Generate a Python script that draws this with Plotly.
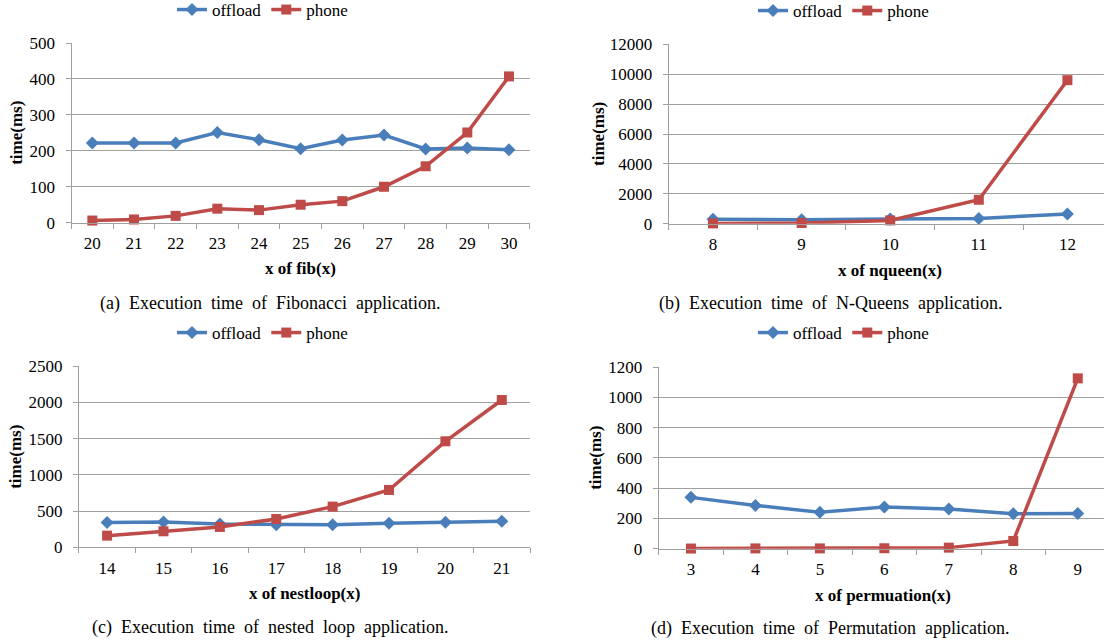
import plotly.graph_objects as go

# ---------------- data ----------------
fib_x = ["20", "21", "22", "23", "24", "25", "26", "27", "28", "29", "30"]
fib_offload = [222, 222, 222, 251, 231, 206, 230, 244, 205, 208, 203]
fib_phone = [6, 9, 19, 39, 35, 50, 60, 100, 157, 251, 407]

nq_x = ["8", "9", "10", "11", "12"]
nq_offload = [300, 270, 310, 350, 650]
nq_phone = [20, 45, 220, 1600, 9600]

nl_x = ["14", "15", "16", "17", "18", "19", "20", "21"]
nl_offload = [341, 350, 322, 313, 313, 331, 345, 359]
nl_phone = [161, 221, 281, 391, 562, 792, 1464, 2035]

pm_x = ["3", "4", "5", "6", "7", "8", "9"]
pm_offload = [339, 286, 240, 275, 262, 231, 233]
pm_phone = [1, 2, 2, 3, 7, 51, 1125]

x_titles = ["x of fib(x)", "x of nqueen(x)", "x of nestloop(x)", "x of permuation(x)"]
captions = [
    "(a)  Execution  time  of  Fibonacci  application.",
    "(b)  Execution  time  of  N-Queens  application.",
    "(c)  Execution  time  of  nested  loop  application.",
    "(d)  Execution  time  of  Permutation  application.",
]
y_title = "time(ms)"
series_names = ["offload", "phone"]

# ---------------- style ----------------
W, H = 1104, 644
FONT = "Liberation Serif"
BLUE = "#4A7EBB"
RED = "#BE4B48"
GRID = "#A0A0A0"

def px(v):
    return v / W

def py(v):
    return 1 - v / H

panels = [
    dict(x=fib_x, off=fib_offload, ph=fib_phone, xd=[71.5, 529.8], yd=[222.7, 43.0],
         xr=[-0.5, 10.5], yr=[0, 500], dt=100, leg=(172, 10),
         ytx=17, xtx=(300.5, 268), cap=(270, 303)),
    dict(x=nq_x, off=nq_offload, ph=nq_phone, xd=[668.7, 1104], yd=[223.7, 44.3],
         xr=[-0.5, -0.5 + (1104 - 668.7) / 88.6], yr=[0, 12000], dt=2000, leg=(753, 11),
         ytx=598, xtx=(890, 270), cap=(830, 303)),
    dict(x=nl_x, off=nl_offload, ph=nl_phone, xd=[78.9, 530.0], yd=[547.3, 366.3],
         xr=[-0.5, 7.5], yr=[0, 2500], dt=500, leg=(172, 333),
         ytx=16, xtx=(304, 593), cap=(270, 627)),
    dict(x=pm_x, off=pm_offload, ph=pm_phone, xd=[658.7, 1104], yd=[548.7, 367.0],
         xr=[-0.5, -0.5 + (1104 - 658.7) / 64.47], yr=[0, 1200], dt=200, leg=(753, 333),
         ytx=596, xtx=(883, 595), cap=(830, 628)),
]

fig = go.Figure()
annotations = []
layout = {}

for i, p in enumerate(panels):
    n = i + 1
    sfx = "" if n == 1 else str(n)
    legname = "legend" if n == 1 else f"legend{n}"
    fig.add_trace(go.Scatter(
        x=p["x"], y=p["off"], name=series_names[0], mode="lines+markers",
        line=dict(color=BLUE, width=3.5), marker=dict(symbol="diamond", size=10, color=BLUE),
        xaxis="x" + sfx, yaxis="y" + sfx, legend=legname, cliponaxis=False))
    fig.add_trace(go.Scatter(
        x=p["x"], y=p["ph"], name=series_names[1], mode="lines+markers",
        line=dict(color=RED, width=3.5), marker=dict(symbol="square", size=10, color=RED),
        xaxis="x" + sfx, yaxis="y" + sfx, legend=legname, cliponaxis=False))

    layout["xaxis" + sfx] = dict(
        domain=[px(p["xd"][0]), px(p["xd"][1])], anchor="y" + sfx, automargin=False,
        type="category", range=p["xr"], showgrid=False, zeroline=False,
        showline=True, linecolor=GRID, linewidth=1,
        ticks="outside", tickson="boundaries", ticklen=5, tickcolor=GRID, tickwidth=1,
        ticklabelstandoff=5,
        tickfont=dict(family=FONT, size=17, color="black"),
    )
    layout["yaxis" + sfx] = dict(
        domain=[py(p["yd"][0]), py(p["yd"][1])], anchor="x" + sfx, automargin=False,
        range=p["yr"], dtick=p["dt"], tick0=0, tickformat="d",
        showgrid=True, gridcolor=GRID, gridwidth=1,
        zeroline=False, showline=True, linecolor=GRID, linewidth=1,
        ticks="outside", ticklen=5, tickcolor=GRID, tickwidth=1,
        ticklabelstandoff=7,
        tickfont=dict(family=FONT, size=17, color="black"),
    )
    layout[legname] = dict(
        orientation="h", x=px(p["leg"][0]), y=py(p["leg"][1]),
        xanchor="left", yanchor="middle", bgcolor="rgba(0,0,0,0)",
        font=dict(family=FONT, size=17, color="black"),
        itemwidth=30, tracegroupgap=0,
    )
    annotations.append(dict(
        text="<b>" + y_title + "</b>", textangle=-90, x=px(p["ytx"]), y=py((p["yd"][0] + p["yd"][1]) / 2),
        xref="paper", yref="paper", showarrow=False, xanchor="center", yanchor="middle",
        font=dict(family=FONT, size=17, color="black")))
    annotations.append(dict(
        text="<b>" + x_titles[i] + "</b>", x=px(p["xtx"][0]), y=py(p["xtx"][1]),
        xref="paper", yref="paper", showarrow=False, xanchor="center", yanchor="middle",
        font=dict(family=FONT, size=17, color="black")))
    annotations.append(dict(
        text=captions[i], x=px(p["cap"][0]), y=py(p["cap"][1]),
        xref="paper", yref="paper", showarrow=False, xanchor="center", yanchor="middle",
        font=dict(family=FONT, size=18, color="black")))

fig.update_layout(
    width=W, height=H, margin=dict(l=0, r=0, t=0, b=0, autoexpand=False),
    paper_bgcolor="white", plot_bgcolor="white",
    font=dict(family=FONT, size=17, color="black"),
    showlegend=True, annotations=annotations, **layout,
)

fig.write_html(
    "out.html",
    config={"displayModeBar": False},
    post_script="document.body.style.margin='0';document.body.style.overflow='hidden';",
)
